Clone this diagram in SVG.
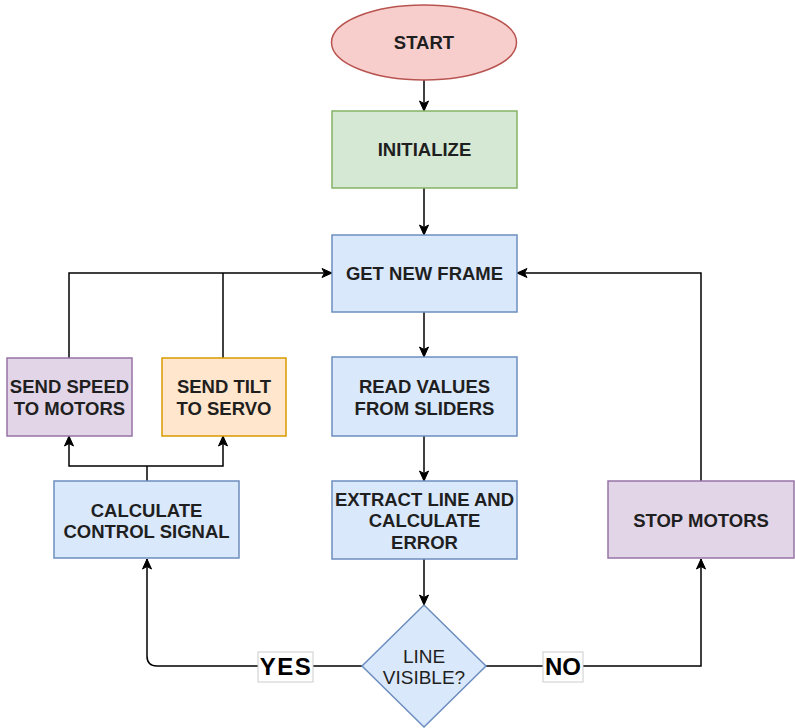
<svg xmlns="http://www.w3.org/2000/svg" width="795" height="728" viewBox="0 0 795 728">
<defs>
<marker id="arr" markerUnits="userSpaceOnUse" markerWidth="12" markerHeight="12" viewBox="0 0 12 12" refX="11" refY="6" orient="auto">
<path d="M1,1.5 L11,6 L1,10.5 L3.5,6 z" fill="#000" stroke="#000" stroke-width="1"/>
</marker>
<style>
.t{font-family:"Liberation Sans",Arial,sans-serif;font-weight:bold;font-size:18.5px;fill:#1f1f1f;text-anchor:middle}
.d{font-family:"Liberation Sans",Arial,sans-serif;font-size:19px;fill:#1f1f1f;text-anchor:middle}
.lbl{font-family:"Liberation Sans",Arial,sans-serif;font-weight:bold;font-size:24px;fill:#000;text-anchor:middle}
.c{fill:none;stroke:#000;stroke-width:1.5}
.ca{fill:none;stroke:#000;stroke-width:1.5;marker-end:url(#arr)}
.blue{fill:#dae8fc;stroke:#6c8ebf;stroke-width:1.5}
.green{fill:#d5e8d4;stroke:#82b366;stroke-width:1.5}
.red{fill:#f8cecc;stroke:#b85450;stroke-width:1.5}
.purple{fill:#e1d5e7;stroke:#9673a6;stroke-width:1.5}
.orange{fill:#ffe6cc;stroke:#d79b00;stroke-width:1.5}
</style>
</defs>
<g id="connectors">
<path class="ca" d="M424,80 L424,111"/>
<path class="ca" d="M424,188 L424,235"/>
<path class="ca" d="M424,312 L424,357"/>
<path class="ca" d="M424,436 L424,481"/>
<path class="ca" d="M424,559 L424,605"/>
<path class="ca" d="M362,666 L157,666 Q147,666 147,656 L147,559"/>
<path class="ca" d="M486,666 L701,666 L701,559"/>
<path class="ca" d="M701,481 L701,273 L517,273"/>
<path class="c" d="M147,481 L147,466"/>
<path class="ca" d="M147,466 L69,466 L69,436"/>
<path class="ca" d="M147,466 L223,466 L223,436"/>
<path class="ca" d="M69,358 L69,273 L332,273"/>
<path class="c" d="M223,358 L223,273"/>
<g id="label-yes">
<rect x="258" y="652" width="55" height="30" fill="#fff" stroke="#ccc" stroke-width="1"/>
<text class="lbl" x="286" y="675" letter-spacing="1.5">YES</text>
</g>
<g id="label-no">
<rect x="543" y="652" width="40" height="30" fill="#fff" stroke="#ccc" stroke-width="1"/>
<text class="lbl" x="563" y="675">NO</text>
</g>
</g>
<g id="start">
<ellipse class="red" cx="424" cy="42.5" rx="92.5" ry="37.5"/>
<text class="t" x="424" y="49">START</text>
</g>
<g id="initialize">
<rect class="green" x="332" y="111" width="185" height="77"/>
<text class="t" x="424.5" y="156">INITIALIZE</text>
</g>
<g id="get-new-frame">
<rect class="blue" x="332" y="235" width="185" height="77"/>
<text class="t" x="424.5" y="279.5">GET NEW FRAME</text>
</g>
<g id="read-values">
<rect class="blue" x="332" y="357" width="185" height="79"/>
<text class="t" x="424.5" y="393">READ VALUES</text>
<text class="t" x="424.5" y="414.5">FROM SLIDERS</text>
</g>
<g id="extract-line">
<rect class="blue" x="332" y="481" width="185" height="78"/>
<text class="t" x="424.5" y="505.5">EXTRACT LINE AND</text>
<text class="t" x="424.5" y="527">CALCULATE</text>
<text class="t" x="424.5" y="548.5">ERROR</text>
</g>
<g id="line-visible">
<path class="blue" d="M424,605 L486,666 L424,727 L362,666 Z"/>
<text class="d" x="424" y="663">LINE</text>
<text class="d" x="424" y="684">VISIBLE?</text>
</g>
<g id="send-speed">
<rect class="purple" x="7" y="358" width="125" height="78"/>
<text class="t" x="69.5" y="393">SEND SPEED</text>
<text class="t" x="69.5" y="414.5">TO MOTORS</text>
</g>
<g id="send-tilt">
<rect class="orange" x="162" y="358" width="124" height="78"/>
<text class="t" x="224" y="393">SEND TILT</text>
<text class="t" x="224" y="414.5">TO SERVO</text>
</g>
<g id="calculate-control">
<rect class="blue" x="54" y="481" width="185" height="77"/>
<text class="t" x="146.5" y="517">CALCULATE</text>
<text class="t" x="146.5" y="538">CONTROL SIGNAL</text>
</g>
<g id="stop-motors">
<rect class="purple" x="608" y="481" width="186" height="77"/>
<text class="t" x="701" y="526.5">STOP MOTORS</text>
</g>
</svg>
